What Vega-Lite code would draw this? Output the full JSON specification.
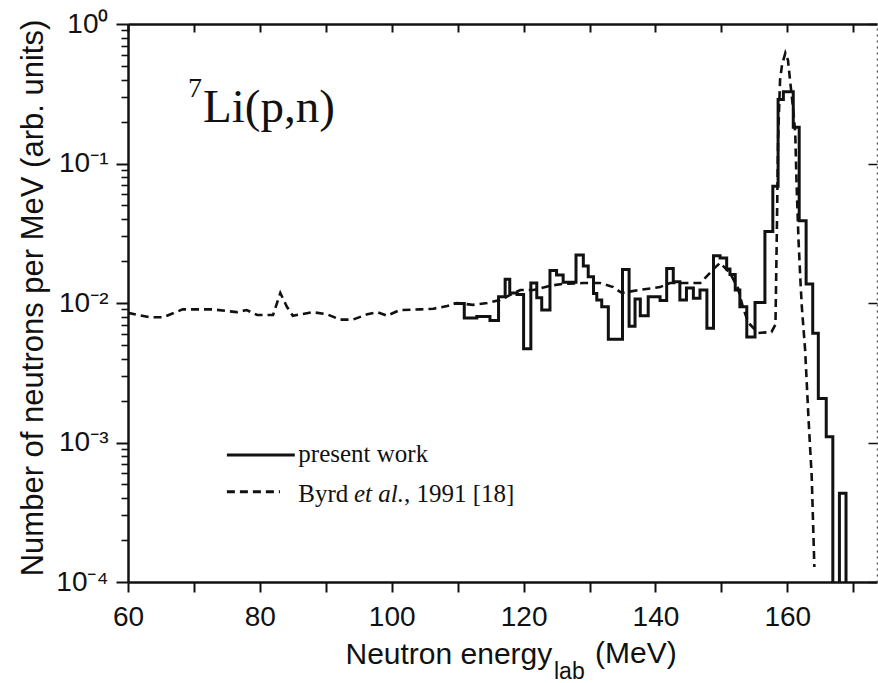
{
  "$schema": "https://vega.github.io/schema/vega-lite/v6.json",
  "width": 749,
  "height": 558,
  "autosize": {"type": "none"},
  "padding": {"left": 128, "top": 24, "right": 1, "bottom": 101},
  "background": "white",
  "config": {
    "view": {"stroke": null},
    "axis": {
      "grid": false,
      "domainColor": "#111",
      "tickColor": "#111",
      "labelColor": "#111",
      "titleColor": "#111",
      "labelFont": "Liberation Sans",
      "titleFont": "Liberation Sans",
      "titleFontWeight": "normal",
      "domainWidth": 2.5,
      "tickWidth": 2,
      "labelFlush": false,
      "labelOverlap": false
    }
  },
  "datasets": {
    "present": [
      {"E": 109.4, "v": 0.0099}, {"E": 111.0, "v": 0.0078}, {"E": 112.9, "v": 0.0080}, {"E": 114.9, "v": 0.0075},
      {"E": 116.2, "v": 0.0111}, {"E": 117.2, "v": 0.0148}, {"E": 117.9, "v": 0.0118}, {"E": 119.0, "v": 0.0115},
      {"E": 120.0, "v": 0.0047}, {"E": 121.1, "v": 0.0139}, {"E": 122.0, "v": 0.0109}, {"E": 122.75, "v": 0.0089},
      {"E": 124.0, "v": 0.0171}, {"E": 125.0, "v": 0.0159}, {"E": 126.0, "v": 0.0141}, {"E": 127.95, "v": 0.0221},
      {"E": 129.06, "v": 0.0184}, {"E": 129.8, "v": 0.0154}, {"E": 130.6, "v": 0.0117}, {"E": 131.1, "v": 0.0105},
      {"E": 131.85, "v": 0.0094}, {"E": 132.85, "v": 0.0055}, {"E": 135.0, "v": 0.0174}, {"E": 136.0, "v": 0.0068},
      {"E": 136.9, "v": 0.0107}, {"E": 137.7, "v": 0.0081}, {"E": 138.9, "v": 0.0111}, {"E": 140.7, "v": 0.0104},
      {"E": 141.7, "v": 0.0177}, {"E": 142.7, "v": 0.0142}, {"E": 143.7, "v": 0.0105}, {"E": 144.7, "v": 0.0128},
      {"E": 145.75, "v": 0.0108}, {"E": 146.75, "v": 0.0124}, {"E": 147.8, "v": 0.0066}, {"E": 148.8, "v": 0.0218},
      {"E": 149.8, "v": 0.0210}, {"E": 150.8, "v": 0.0175}, {"E": 151.3, "v": 0.0160}, {"E": 152.1, "v": 0.0124},
      {"E": 152.8, "v": 0.0094}, {"E": 153.85, "v": 0.0057}, {"E": 155.1, "v": 0.0101}, {"E": 156.6, "v": 0.0325},
      {"E": 157.8, "v": 0.0687}, {"E": 158.6, "v": 0.288}, {"E": 159.4, "v": 0.327}, {"E": 160.9, "v": 0.182},
      {"E": 161.8, "v": 0.0389}, {"E": 162.85, "v": 0.0137}, {"E": 163.85, "v": 0.00607}, {"E": 164.7, "v": 0.00207},
      {"E": 165.9, "v": 0.0011}, {"E": 166.9, "v": 0.00005}, {"E": 167.9, "v": 0.000432}, {"E": 168.9, "v": 0.00005},
      {"E": 169.5, "v": 0.00005}
    ],
    "byrd": [
      {"E": 60.0, "v": 0.0085}, {"E": 63.3, "v": 0.0079}, {"E": 65.3, "v": 0.0079}, {"E": 68.3, "v": 0.0090},
      {"E": 72.9, "v": 0.0090}, {"E": 76.5, "v": 0.0086}, {"E": 78.0, "v": 0.0089}, {"E": 79.6, "v": 0.0082},
      {"E": 82.0, "v": 0.0082}, {"E": 83.1, "v": 0.0118}, {"E": 84.1, "v": 0.0094}, {"E": 85.0, "v": 0.0081},
      {"E": 88.0, "v": 0.0086}, {"E": 90.2, "v": 0.0083}, {"E": 92.2, "v": 0.0076}, {"E": 94.1, "v": 0.0076},
      {"E": 96.3, "v": 0.0083}, {"E": 97.8, "v": 0.0086}, {"E": 99.3, "v": 0.0081}, {"E": 101.2, "v": 0.0089},
      {"E": 104.3, "v": 0.0090}, {"E": 106.3, "v": 0.0091}, {"E": 108.4, "v": 0.0095}, {"E": 109.9, "v": 0.0100},
      {"E": 112.3, "v": 0.0097}, {"E": 114.5, "v": 0.0100}, {"E": 116.4, "v": 0.0105}, {"E": 119.5, "v": 0.0124},
      {"E": 121.5, "v": 0.0124}, {"E": 124.0, "v": 0.0133}, {"E": 126.0, "v": 0.0137}, {"E": 129.0, "v": 0.0139},
      {"E": 131.6, "v": 0.0139}, {"E": 133.6, "v": 0.0130}, {"E": 134.9, "v": 0.0118}, {"E": 137.5, "v": 0.0124},
      {"E": 140.7, "v": 0.0130}, {"E": 142.2, "v": 0.0139}, {"E": 145.2, "v": 0.0139}, {"E": 146.8, "v": 0.0139},
      {"E": 148.8, "v": 0.0175}, {"E": 149.8, "v": 0.0194}, {"E": 151.3, "v": 0.0164}, {"E": 152.5, "v": 0.0128},
      {"E": 153.3, "v": 0.0092}, {"E": 154.1, "v": 0.0072}, {"E": 155.6, "v": 0.0061}, {"E": 157.6, "v": 0.0062},
      {"E": 158.2, "v": 0.0070}, {"E": 158.4, "v": 0.03}, {"E": 158.6, "v": 0.15}, {"E": 158.9, "v": 0.40},
      {"E": 159.2, "v": 0.51}, {"E": 159.7, "v": 0.62}, {"E": 160.1, "v": 0.55}, {"E": 160.4, "v": 0.40},
      {"E": 160.9, "v": 0.242}, {"E": 161.2, "v": 0.165}, {"E": 161.4, "v": 0.072}, {"E": 161.7, "v": 0.028},
      {"E": 162.0, "v": 0.014}, {"E": 162.2, "v": 0.0094}, {"E": 162.7, "v": 0.0046}, {"E": 163.2, "v": 0.00152},
      {"E": 163.7, "v": 0.000566}, {"E": 164.1, "v": 0.000128}
    ],
    "legendlines": [
      {"x1": 75.0, "x2": 85.3, "v": 0.000813, "series": "present work"},
      {"x1": 75.0, "x2": 83.05, "v": 0.000444, "series": "Byrd et al., 1991 [18]"}
    ],
    "label7": [{"E": 69.1, "v": 0.301, "t": "7"}],
    "labelLi": [{"E": 71.38, "v": 0.1994, "t": "Li(p,n)"}],
    "legtext": [
      {"E": 85.83, "v": 0.000728, "t": "present work"},
      {"E": 85.83, "v": 0.000377, "t": "Byrd"},
      {"E": 101.86, "v": 0.000377, "t": ", 1991 [18]"}
    ],
    "legital": [{"E": 94.28, "v": 0.000377, "t": "et al."}],
    "xsub": [{"E": 124.61, "v": 0.0000202, "t": "lab"}],
    "xunit": [{"E": 130.83, "v": 0.0000261, "t": "(MeV)"}]
  },
  "resolve": {"axis": {"x": "independent", "y": "independent"}},
  "layer": [
    {
      "data": {"name": "present"},
      "mark": {"type": "line", "interpolate": "step-after", "stroke": "#111", "strokeWidth": 3, "clip": true},
      "encoding": {
        "x": {
          "field": "E", "type": "quantitative",
          "scale": {"domain": [60, 173.6], "nice": false, "zero": false},
          "axis": {
            "orient": "bottom",
            "values": [60, 70, 80, 90, 100, 110, 120, 130, 140, 150, 160, 170],
            "labelExpr": "datum.value % 20 === 0 ? datum.label : ''",
            "tickSize": 10, "labelFontSize": 28, "labelPadding": 11,
            "title": "Neutron energy", "titleFontSize": 30,
            "titleAnchor": "start", "titleAlign": "left", "titleX": 217, "titleY": 81, "titleBaseline": "alphabetic"
          }
        },
        "y": {
          "field": "v", "type": "quantitative",
          "scale": {"type": "log", "domain": [0.0001, 1], "nice": false},
          "axis": {
            "orient": "left",
            "values": [0.0001, 0.001, 0.01, 0.1, 1],
            "labelExpr": "datum.value > 0.5 ? '10⁰' : datum.value > 0.05 ? '10⁻¹' : datum.value > 0.005 ? '10⁻²' : datum.value > 0.0005 ? '10⁻³' : '10⁻⁴'",
            "tickSize": 12, "labelFontSize": 28, "labelPadding": 8,
            "title": "Number of neutrons per MeV (arb. units)", "titleFontSize": 31,
            "titleX": -86, "titleY": 273.5, "titleAngle": -90, "titleAlign": "center", "titleBaseline": "alphabetic"
          }
        }
      }
    },
    {
      "data": {"name": "byrd"},
      "mark": {"type": "line", "stroke": "#111", "strokeWidth": 2.6, "strokeDash": [8, 5], "clip": true},
      "encoding": {
        "x": {
          "field": "E", "type": "quantitative",
          "scale": {"domain": [60, 173.6], "nice": false, "zero": false},
          "axis": {
            "orient": "top",
            "values": [60, 70, 80, 90, 100, 110, 120, 130, 140, 150, 160, 170],
            "labels": false, "tickSize": -8, "title": null
          }
        },
        "y": {
          "field": "v", "type": "quantitative",
          "scale": {"type": "log", "domain": [0.0001, 1], "nice": false},
          "axis": {
            "orient": "right",
            "values": [0.0001, 0.001, 0.01, 0.1, 1],
            "labels": false, "tickSize": -9, "title": null,
            "domainDash": [2, 4], "domainColor": "#555", "domainWidth": 1.5, "tickWidth": 1.5
          }
        }
      }
    },
    {
      "data": {"name": "legendlines"},
      "mark": {"type": "rule", "stroke": "#111", "strokeWidth": 3},
      "encoding": {
        "x": {"field": "x1", "type": "quantitative", "scale": {"domain": [60, 173.6], "nice": false, "zero": false}, "axis": null},
        "x2": {"field": "x2"},
        "y": {
          "field": "v", "type": "quantitative",
          "scale": {"type": "log", "domain": [0.0001, 1], "nice": false},
          "axis": {
            "orient": "left",
            "values": [0.0002, 0.0003, 0.0004, 0.0005, 0.0006, 0.0007, 0.0008, 0.0009,
                       0.002, 0.003, 0.004, 0.005, 0.006, 0.007, 0.008, 0.009,
                       0.02, 0.03, 0.04, 0.05, 0.06, 0.07, 0.08, 0.09,
                       0.2, 0.3, 0.4, 0.5, 0.6, 0.7, 0.8, 0.9],
            "labels": false, "domain": false, "tickSize": 7, "tickWidth": 1.6, "title": null
          }
        },
        "strokeDash": {
          "field": "series", "type": "nominal",
          "scale": {"domain": ["present work", "Byrd et al., 1991 [18]"], "range": [[1, 0], [8, 5]]},
          "legend": null
        }
      }
    },
    {
      "data": {"name": "label7"},
      "mark": {"type": "text", "font": "Liberation Serif", "fontSize": 28, "align": "left", "baseline": "alphabetic", "color": "#111"},
      "encoding": {
        "x": {"field": "E", "type": "quantitative", "scale": {"domain": [60, 173.6], "nice": false, "zero": false}, "axis": null},
        "y": {"field": "v", "type": "quantitative", "scale": {"type": "log", "domain": [0.0001, 1], "nice": false}, "axis": null},
        "text": {"field": "t"}
      }
    },
    {
      "data": {"name": "labelLi"},
      "mark": {"type": "text", "font": "Liberation Serif", "fontSize": 47, "align": "left", "baseline": "alphabetic", "color": "#111"},
      "encoding": {
        "x": {"field": "E", "type": "quantitative", "scale": {"domain": [60, 173.6], "nice": false, "zero": false}, "axis": null},
        "y": {"field": "v", "type": "quantitative", "scale": {"type": "log", "domain": [0.0001, 1], "nice": false}, "axis": null},
        "text": {"field": "t"}
      }
    },
    {
      "data": {"name": "legtext"},
      "mark": {"type": "text", "font": "Liberation Serif", "fontSize": 25, "align": "left", "baseline": "alphabetic", "color": "#111"},
      "encoding": {
        "x": {"field": "E", "type": "quantitative", "scale": {"domain": [60, 173.6], "nice": false, "zero": false}, "axis": null},
        "y": {"field": "v", "type": "quantitative", "scale": {"type": "log", "domain": [0.0001, 1], "nice": false}, "axis": null},
        "text": {"field": "t"}
      }
    },
    {
      "data": {"name": "legital"},
      "mark": {"type": "text", "font": "Liberation Serif", "fontSize": 25, "fontStyle": "italic", "align": "left", "baseline": "alphabetic", "color": "#111"},
      "encoding": {
        "x": {"field": "E", "type": "quantitative", "scale": {"domain": [60, 173.6], "nice": false, "zero": false}, "axis": null},
        "y": {"field": "v", "type": "quantitative", "scale": {"type": "log", "domain": [0.0001, 1], "nice": false}, "axis": null},
        "text": {"field": "t"}
      }
    },
    {
      "data": {"name": "xsub"},
      "mark": {"type": "text", "font": "Liberation Sans", "fontSize": 23, "align": "left", "baseline": "alphabetic", "color": "#111"},
      "encoding": {
        "x": {"field": "E", "type": "quantitative", "scale": {"domain": [60, 173.6], "nice": false, "zero": false}, "axis": null},
        "y": {"field": "v", "type": "quantitative", "scale": {"type": "log", "domain": [0.0001, 1], "nice": false}, "axis": null},
        "text": {"field": "t"}
      }
    },
    {
      "data": {"name": "xunit"},
      "mark": {"type": "text", "font": "Liberation Sans", "fontSize": 30, "align": "left", "baseline": "alphabetic", "color": "#111"},
      "encoding": {
        "x": {"field": "E", "type": "quantitative", "scale": {"domain": [60, 173.6], "nice": false, "zero": false}, "axis": null},
        "y": {"field": "v", "type": "quantitative", "scale": {"type": "log", "domain": [0.0001, 1], "nice": false}, "axis": null},
        "text": {"field": "t"}
      }
    }
  ]
}
